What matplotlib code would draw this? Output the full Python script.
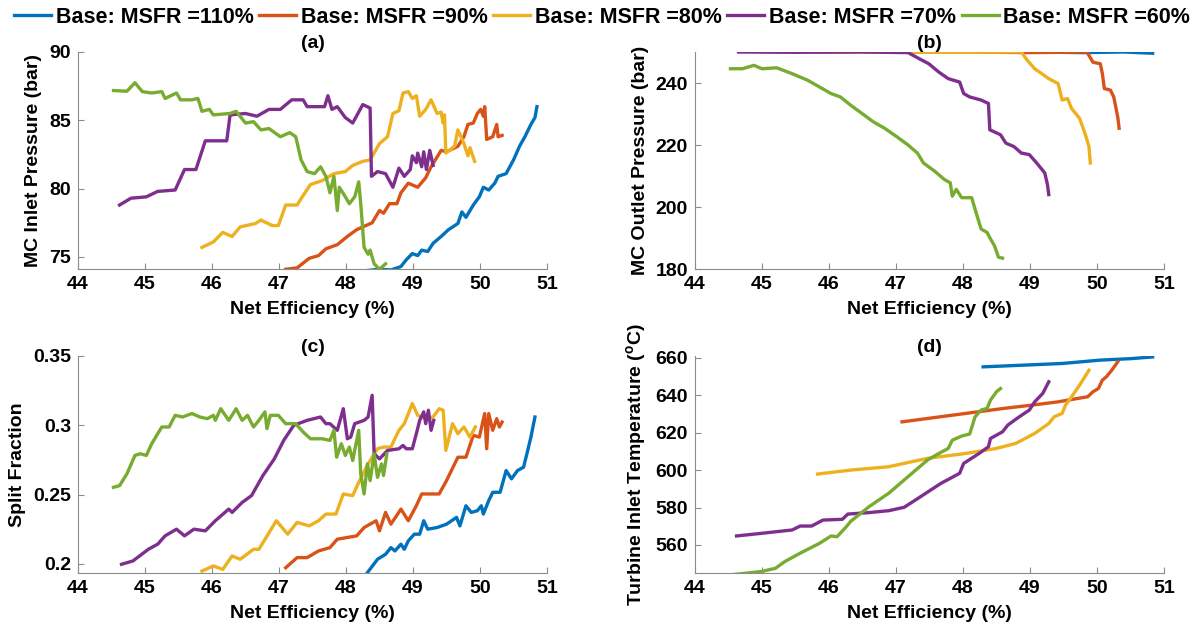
import matplotlib
matplotlib.use("Agg")
import matplotlib.pyplot as plt

plt.rcParams['font.family'] = ['Liberation Sans', 'DejaVu Sans']
plt.rcParams['font.weight'] = 'bold'
plt.rcParams['mathtext.fontset'] = 'custom'
plt.rcParams['mathtext.bf'] = 'Liberation Sans:bold'
plt.rcParams['mathtext.rm'] = 'Liberation Sans:bold'

labels = ['Base: MSFR =110%', 'Base: MSFR =90%', 'Base: MSFR =80%',
          'Base: MSFR =70%', 'Base: MSFR =60%']
colors = ['#0072BD', '#D95319', '#EDB120', '#7E2F8E', '#77AC30']

# (a) MC inlet pressure
a_x110 = [48.3, 48.5, 48.67, 48.82, 48.9, 48.99, 49.07, 49.13, 49.22, 49.3, 49.42, 49.53, 49.67, 49.73,
          49.79, 49.9, 49.99, 50.05, 50.13, 50.22, 50.27, 50.39, 50.5, 50.59, 50.67, 50.76, 50.82, 50.85]
a_y110 = [74.0, 74.1, 74.05, 74.3, 74.8, 75.25, 75.1, 75.5, 75.4, 76.0, 76.5, 77.0, 77.45, 78.3,
          77.9, 78.8, 79.4, 80.1, 79.9, 80.4, 80.9, 81.1, 82.1, 83.1, 83.8, 84.7, 85.2, 86.0]
a_x90 = [47.1, 47.27, 47.45, 47.59, 47.7, 47.87, 48.02, 48.16, 48.39, 48.5, 48.56, 48.65, 48.76, 48.82,
         48.93, 49.07, 49.19, 49.27, 49.42, 49.5, 49.67, 49.76, 49.82, 49.9, 49.96, 50.01, 50.05, 50.07,
         50.1, 50.19, 50.25, 50.27, 50.33]
a_y90 = [74.1, 74.2, 74.9, 75.1, 75.6, 75.9, 76.5, 77.0, 77.5, 78.4, 78.2, 78.9, 78.9, 79.7,
         80.4, 80.1, 80.8, 81.6, 82.8, 82.7, 83.1, 83.8, 84.7, 84.8, 85.5, 85.8, 85.3, 86.0,
         83.6, 83.8, 84.7, 83.8, 83.9]
a_x80 = [45.85, 46.02, 46.16, 46.3, 46.42, 46.65, 46.73, 46.9, 46.99, 47.1, 47.27, 47.36, 47.47, 47.65,
         47.82, 47.99, 48.1, 48.25, 48.36, 48.5, 48.62, 48.7, 48.79, 48.85, 48.93, 48.99, 49.05, 49.1,
         49.19, 49.27, 49.36, 49.42, 49.45, 49.47, 49.49, 49.62, 49.67, 49.76, 49.82, 49.85, 49.92]
a_y80 = [75.7, 76.1, 76.8, 76.5, 77.2, 77.45, 77.7, 77.3, 77.3, 78.8, 78.8, 79.5, 80.3, 80.6,
         81.1, 81.25, 81.7, 82.0, 82.1, 83.3, 83.8, 85.5, 85.7, 87.0, 87.1, 86.6, 86.8, 85.3,
         85.8, 86.5, 85.5, 85.6, 84.8, 85.4, 82.6, 83.1, 84.3, 83.3, 82.4, 83.0, 82.0]
a_x70 = [44.62, 44.79, 45.02, 45.19, 45.45, 45.59, 45.76, 45.9, 46.05, 46.22, 46.27, 46.5, 46.67, 46.85,
         47.02, 47.19, 47.36, 47.42, 47.68, 47.73, 47.79, 47.87, 47.99, 48.1, 48.25, 48.36, 48.38, 48.47,
         48.59, 48.7, 48.79, 48.87, 48.96, 48.99, 49.05, 49.07, 49.13, 49.16, 49.2, 49.25, 49.3]
a_y70 = [78.8, 79.3, 79.4, 79.8, 79.9, 81.4, 81.4, 83.5, 83.5, 83.5, 85.4, 85.5, 85.3, 85.8,
         85.8, 86.5, 86.5, 86.0, 86.0, 86.8, 85.8, 86.0, 85.2, 84.8, 86.15, 85.9, 80.9, 81.25,
         81.1, 80.1, 81.5, 80.9, 81.4, 82.4, 81.9, 82.6, 81.6, 82.7, 81.4, 82.8, 81.7]
a_x60 = [44.53, 44.73, 44.85, 44.96, 45.1, 45.25, 45.3, 45.47, 45.53, 45.7, 45.79, 45.85, 45.96, 46.02,
         46.27, 46.36, 46.5, 46.62, 46.73, 46.85, 47.02, 47.16, 47.25, 47.33, 47.42, 47.53, 47.62, 47.7,
         47.76, 47.82, 47.87, 47.9, 47.99, 48.05, 48.13, 48.19, 48.22, 48.27, 48.33, 48.36, 48.42, 48.5,
         48.59]
a_y60 = [87.18, 87.13, 87.75, 87.1, 87.0, 87.1, 86.6, 87.0, 86.5, 86.5, 86.6, 85.66, 85.8, 85.4,
         85.5, 85.66, 84.8, 84.9, 84.3, 84.4, 83.8, 84.1, 83.8, 82.1, 81.25, 81.1, 81.6, 80.9,
         79.7, 80.9, 78.4, 80.1, 79.4, 78.9, 79.4, 80.5, 78.9, 75.7, 75.2, 75.5, 74.5, 74.1,
         74.5]

# (b) MC outlet pressure
b_x110 = [48.3, 49.0, 49.8, 50.4, 50.83]
b_y110 = [250.0, 250.0, 249.8, 250.0, 249.6]
b_x90 = [47.1, 48.0, 49.0, 49.85, 49.94, 50.05, 50.08, 50.11, 50.2, 50.25, 50.31, 50.33]
b_y90 = [250.0, 250.0, 249.8, 250.0, 246.7, 246.2, 243.0, 238.2, 237.7, 235.5, 229.0, 225.4]
b_x80 = [45.85, 47.0, 48.0, 48.87, 48.96, 49.07, 49.28, 49.42, 49.48, 49.56, 49.62, 49.74, 49.82,
         49.88, 49.9]
b_y80 = [250.0, 250.0, 249.9, 250.0, 247.3, 244.6, 241.4, 239.8, 234.5, 235.0, 231.8, 228.6, 223.8,
         219.5, 214.2]
b_x70 = [44.65, 45.5, 46.5, 47.18, 47.35, 47.49, 47.64, 47.78, 47.95, 48.01, 48.1, 48.27, 48.38,
         48.4, 48.56, 48.64, 48.76, 48.87, 48.99, 49.1, 49.16, 49.22, 49.26, 49.28]
b_y70 = [250.0, 249.9, 250.0, 249.8, 247.8, 246.2, 243.5, 241.4, 240.3, 236.6, 235.5, 234.5, 233.4,
         224.9, 223.3, 220.6, 219.5, 217.4, 216.9, 214.2, 212.6, 211.0, 207.3, 204.0]
b_x60 = [44.53, 44.71, 44.88, 45.0, 45.22, 45.45, 45.68, 45.86, 46.03, 46.17, 46.32, 46.49, 46.66,
         46.83, 47.01, 47.18, 47.32, 47.41, 47.58, 47.72, 47.81, 47.84, 47.9, 47.98, 48.13, 48.18,
         48.27, 48.36, 48.41, 48.47, 48.53, 48.59]
b_y60 = [244.6, 244.6, 245.7, 244.6, 244.9, 243.0, 240.9, 238.7, 236.6, 235.5, 232.9, 230.2, 227.5,
         225.4, 222.7, 220.0, 217.4, 214.2, 211.5, 208.9, 207.8, 203.5, 205.7, 203.0, 203.0, 199.3,
         192.9, 191.8, 189.7, 187.5, 183.8, 183.5]

# (c) split fraction
c_x110 = [48.3, 48.47, 48.59, 48.67, 48.73, 48.82, 48.87, 48.93, 49.02, 49.1, 49.16, 49.22, 49.36,
          49.5, 49.65, 49.7, 49.79, 49.87, 49.96, 50.02, 50.05, 50.13, 50.19, 50.3, 50.39, 50.47,
          50.56, 50.65, 50.7, 50.76, 50.82]
c_y110 = [0.1925, 0.2034, 0.207, 0.2118, 0.2094, 0.2143, 0.2106, 0.2167, 0.2215, 0.2215, 0.2312,
          0.2251, 0.2263, 0.2287, 0.2336, 0.2275, 0.242, 0.2372, 0.2384, 0.242, 0.236, 0.2457,
          0.2517, 0.2517, 0.2674, 0.2614, 0.2674, 0.2698, 0.2795, 0.2915, 0.306]
c_x90 = [47.1, 47.27, 47.42, 47.59, 47.76, 47.87, 48.02, 48.16, 48.27, 48.45, 48.5, 48.59, 48.67,
         48.82, 48.93, 49.05, 49.13, 49.39, 49.5, 49.67, 49.79, 49.9, 49.99, 50.07, 50.1, 50.13,
         50.19, 50.25, 50.29, 50.33]
c_y90 = [0.1973, 0.2046, 0.2046, 0.2094, 0.2118, 0.2179, 0.2191, 0.2203, 0.2263, 0.2312, 0.2239,
         0.2372, 0.2287, 0.2396, 0.2312, 0.242, 0.2505, 0.2505, 0.2601, 0.277, 0.277, 0.2928,
         0.2915, 0.3085, 0.2831, 0.3085, 0.2964, 0.3048, 0.2988, 0.3024]
c_x80 = [45.85, 46.02, 46.16, 46.3, 46.42, 46.62, 46.7, 46.96, 47.13, 47.27, 47.45, 47.59, 47.7,
         47.85, 47.96, 48.1, 48.19, 48.33, 48.47, 48.56, 48.67, 48.79, 48.87, 48.99, 49.07, 49.19,
         49.3, 49.39, 49.45, 49.49, 49.59, 49.67, 49.76, 49.85, 49.93]
c_y80 = [0.1949, 0.1986, 0.1961, 0.2058, 0.2034, 0.2106, 0.2106, 0.2312, 0.2215, 0.23, 0.2275,
         0.2312, 0.236, 0.236, 0.2505, 0.2493, 0.2589, 0.2722, 0.2831, 0.2843, 0.2843, 0.2964,
         0.3012, 0.3157, 0.3072, 0.3048, 0.306, 0.312, 0.3109, 0.2819, 0.3012, 0.294, 0.2988,
         0.2915, 0.2988]
c_x70 = [44.65, 44.82, 45.05, 45.19, 45.3, 45.47, 45.59, 45.73, 45.9, 46.05, 46.25, 46.3, 46.45,
         46.59, 46.76, 46.93, 47.07, 47.22, 47.42, 47.62, 47.7, 47.76, 47.87, 47.96, 48.02, 48.07,
         48.13, 48.27, 48.33, 48.39, 48.42, 48.5, 48.62, 48.79, 48.85, 48.9, 48.99, 49.05, 49.1,
         49.16, 49.19, 49.23, 49.27, 49.31]
c_y70 = [0.1998, 0.2022, 0.2106, 0.2143, 0.2203, 0.2251, 0.2203, 0.2251, 0.2239, 0.2312, 0.2396,
         0.2372, 0.2444, 0.2493, 0.2638, 0.2758, 0.2891, 0.3, 0.3036, 0.306, 0.3012, 0.3012,
         0.2964, 0.312, 0.2903, 0.2915, 0.3012, 0.3036, 0.306, 0.3217, 0.2795, 0.2758, 0.2819,
         0.2831, 0.2855, 0.2831, 0.2831, 0.294, 0.3036, 0.3097, 0.3012, 0.3109, 0.2964, 0.3036]
c_x60 = [44.53, 44.62, 44.73, 44.85, 44.93, 45.02, 45.1, 45.25, 45.36, 45.45, 45.56, 45.7, 45.82,
         45.93, 46.02, 46.05, 46.13, 46.25, 46.36, 46.45, 46.53, 46.62, 46.7, 46.79, 46.82, 46.87,
         46.99, 47.1, 47.25, 47.36, 47.47, 47.65, 47.76, 47.82, 47.86, 47.93, 47.99, 48.05, 48.1,
         48.19, 48.22, 48.27, 48.32, 48.36, 48.42, 48.47, 48.53, 48.56, 48.61]
c_y60 = [0.2553, 0.2565, 0.265, 0.2783, 0.2795, 0.2783, 0.2867, 0.2988, 0.2988, 0.3072, 0.306,
         0.3085, 0.306, 0.3048, 0.3072, 0.3036, 0.312, 0.3036, 0.312, 0.3036, 0.3072, 0.2988,
         0.3036, 0.3097, 0.2976, 0.3072, 0.3072, 0.3012, 0.3012, 0.2952, 0.2903, 0.2903, 0.2891,
         0.2964, 0.277, 0.2867, 0.2783, 0.2843, 0.2746, 0.2964, 0.265, 0.2505, 0.2722, 0.2601,
         0.2795, 0.2625, 0.2722, 0.2638, 0.2795]

# (d) turbine inlet temperature
d_x110 = [48.3, 48.9, 49.48, 50.05, 50.51, 50.83]
d_y110 = [655.2, 656.1, 657.0, 658.8, 659.6, 660.5]
d_x90 = [47.09, 47.47, 48.04, 48.61, 49.02, 49.42, 49.71, 49.86, 49.94, 50.02, 50.08, 50.14, 50.22,
         50.31]
d_y90 = [625.8, 627.6, 630.3, 633.0, 634.7, 636.5, 638.3, 639.2, 641.9, 643.6, 648.1, 649.9, 653.4,
         657.9]
d_x80 = [45.83, 46.32, 46.89, 47.47, 48.04, 48.5, 48.79, 49.07, 49.28, 49.36, 49.48, 49.53, 49.62,
         49.74, 49.88]
d_y80 = [597.9, 600.0, 601.8, 606.3, 608.9, 611.6, 614.3, 619.6, 624.9, 628.5, 630.3, 634.7, 639.2,
         645.4, 653.4]
d_x70 = [44.62, 44.99, 45.45, 45.57, 45.74, 45.91, 46.2, 46.28, 46.6, 46.89, 47.12, 47.29, 47.52,
         47.67, 47.95, 48.01, 48.24, 48.38, 48.41, 48.59, 48.67, 48.84, 48.99, 49.07, 49.19, 49.28]
d_y70 = [564.8, 566.2, 568.0, 570.1, 570.1, 573.3, 573.7, 576.5, 577.3, 578.3, 580.1, 584.0, 589.4,
         592.9, 598.3, 603.6, 608.9, 612.5, 616.9, 620.5, 624.1, 628.5, 632.1, 636.5, 641.0, 647.2]
d_x60 = [44.53, 44.76, 44.99, 45.2, 45.34, 45.57, 45.86, 46.03, 46.12, 46.26, 46.32, 46.6, 46.89,
         47.18, 47.47, 47.64, 47.78, 47.84, 47.98, 48.1, 48.18, 48.27, 48.36, 48.41, 48.5, 48.56]
d_y60 = [544.0, 544.9, 545.8, 547.5, 551.1, 555.6, 560.9, 564.8, 564.4, 569.8, 572.5, 580.5, 587.6,
         596.5, 605.4, 608.9, 611.6, 616.0, 618.2, 619.3, 628.5, 632.1, 633.0, 637.4, 641.9, 643.6]

fig = plt.figure(figsize=(12.04, 6.34), dpi=100)
W, H = 1204, 634


def box(l, t, r, b):
    return [l / W, 1 - b / H, (r - l) / W, (b - t) / H]


panels = [
    (box(78, 52, 547, 269), '(a)', 'MC Inlet Pressure (bar)', (74.12, 90), [75, 80, 85, 90], None,
     [(a_x110, a_y110), (a_x90, a_y90), (a_x80, a_y80), (a_x70, a_y70), (a_x60, a_y60)]),
    (box(695, 52, 1164, 269), '(b)', 'MC Outlet Pressure (bar)', (180, 250), [180, 200, 220, 240], None,
     [(b_x110, b_y110), (b_x90, b_y90), (b_x80, b_y80), (b_x70, b_y70), (b_x60, b_y60)]),
    (box(78, 356, 547, 573), '(c)', 'Split Fraction', (0.1935, 0.35), [0.2, 0.25, 0.3, 0.35],
     ['0.2', '0.25', '0.3', '0.35'],
     [(c_x110, c_y110), (c_x90, c_y90), (c_x80, c_y80), (c_x70, c_y70), (c_x60, c_y60)]),
    (box(695, 356, 1164, 573), '(d)', r'Turbine Inlet Temperature ($^{\mathbf{o}}$C)', (545, 661),
     [560, 580, 600, 620, 640, 660], None,
     [(d_x110, d_y110), (d_x90, d_y90), (d_x80, d_y80), (d_x70, d_y70), (d_x60, d_y60)]),
]

for rect, title, ylab, ylim, yt, ytl, series in panels:
    ax = fig.add_axes(rect)
    for (x, y), c, lab in zip(series, colors, labels):
        ax.plot(x, y, color=c, lw=2.4, label=lab)
    ax.set_xlim(44, 51)
    ax.set_ylim(*ylim)
    ax.set_xticks(range(44, 52))
    ax.set_yticks(yt)
    if ytl:
        ax.set_yticklabels(ytl)
    for s in ['top', 'right']:
        ax.spines[s].set_visible(False)
    for s in ['left', 'bottom']:
        ax.spines[s].set_color('#8c8c8c')
        ax.spines[s].set_linewidth(0.8)
    ax.tick_params(direction='in', length=4, color='#8c8c8c', labelsize=14, pad=5)
    ax.set_xlabel('Net Efficiency (%)', fontsize=14, fontweight='bold', labelpad=6)
    ax.set_ylabel(ylab, fontsize=14, fontweight='bold', labelpad=5)
    ax.set_title(title, fontsize=14, fontweight='bold', pad=2)

handles, labs = ax.get_legend_handles_labels()
fig.legend(handles, labs, loc='upper center', bbox_to_anchor=(0.5, 1.02), ncol=5, frameon=False,
           handlelength=1.72, handletextpad=0.19, columnspacing=0.28,
           prop={'weight': 'bold', 'size': 15.5})

fig.savefig('out.png', dpi=100)
